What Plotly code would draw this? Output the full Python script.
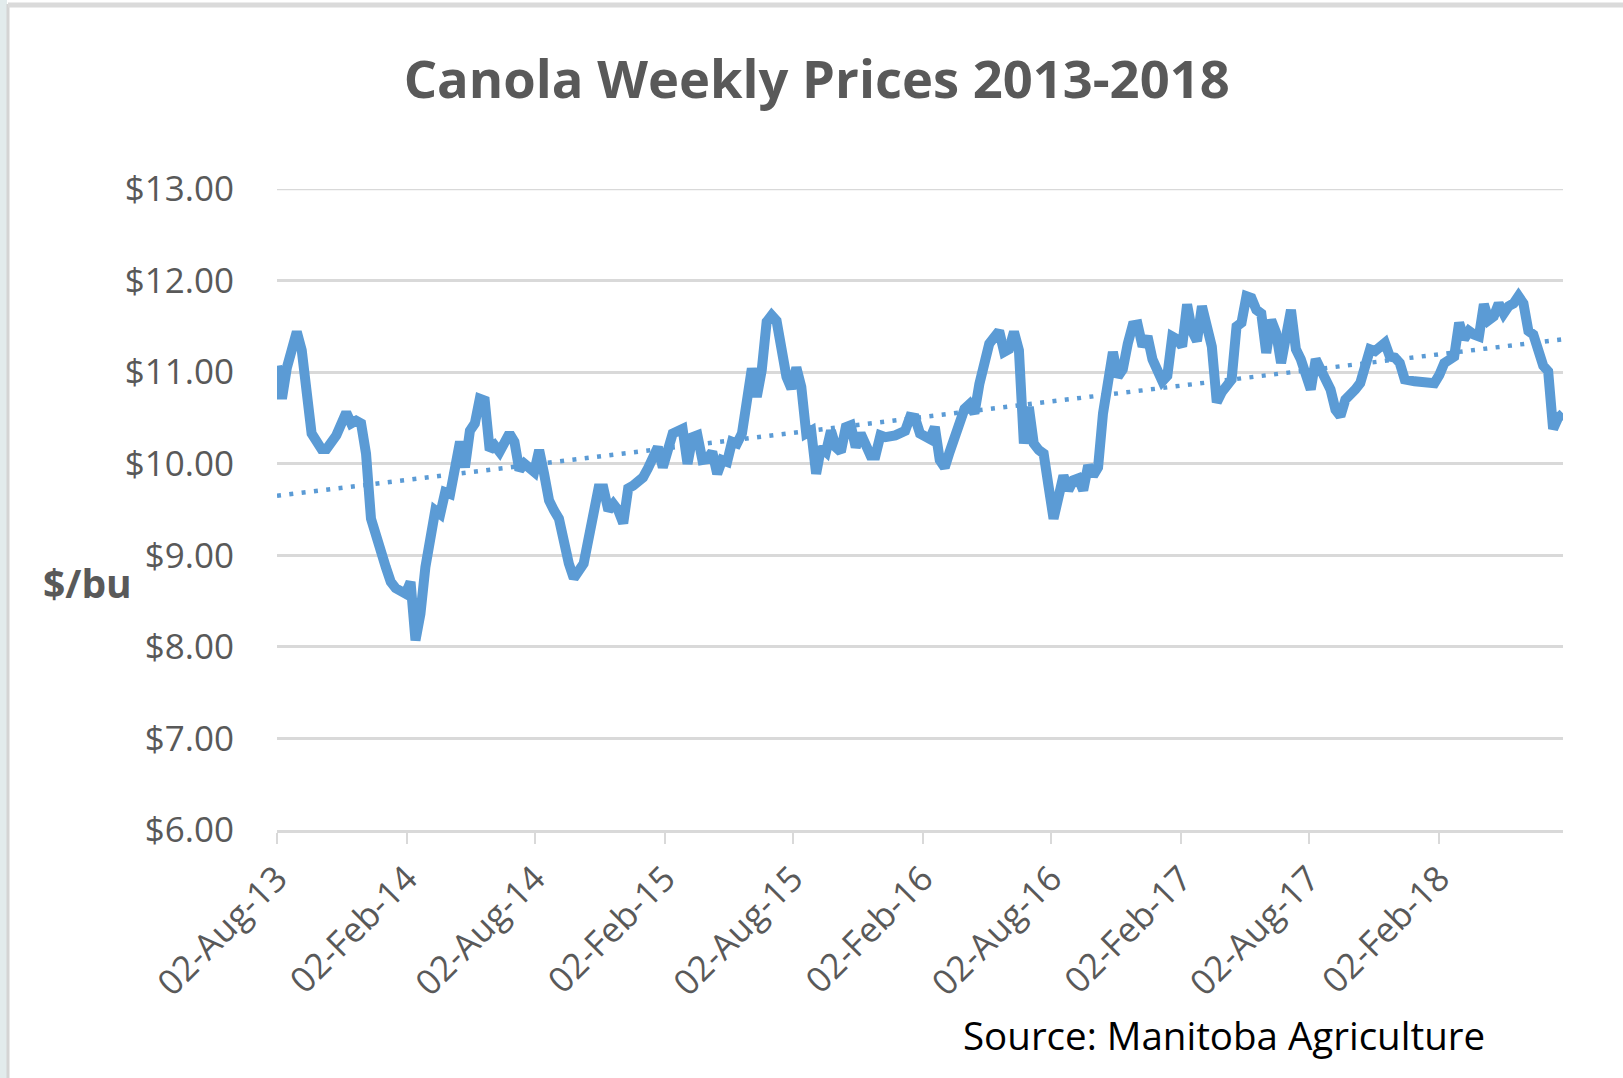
import pandas as pd
import plotly.graph_objects as go

# ---------------- data ----------------
start_date = "2013-08-02"  # first weekly observation (Friday)

weeks = [0, 1, 2, 4, 5, 6, 7, 9, 10, 12, 13, 14, 15, 16, 17, 18, 19, 20, 22, 23, 24, 26, 27, 28, 29, 30,
         32, 33, 34, 35, 36, 37, 38, 39, 40, 41, 42, 43, 44, 45, 47, 48, 49, 50, 52, 53, 54, 55, 56, 57,
         59, 60, 62, 63, 64, 65, 66, 67, 68, 69, 70, 71, 72, 74, 75, 77, 78, 79, 80, 82, 83, 84, 85,
         86, 87, 88, 89, 90, 91, 92, 93, 94, 95, 96, 97, 98, 99, 100, 101, 102, 103, 104, 105, 106, 107,
         108, 109, 110, 111, 112, 113, 114, 115, 116, 117, 118, 119, 120, 121, 122, 123, 125, 127, 128,
         129, 130, 132, 133, 134, 135, 136, 137, 138, 139, 140, 141, 142, 143, 144, 146, 147, 148, 149,
         150, 151, 152, 153, 154, 155, 156, 157, 159, 160, 161, 162, 163, 164, 165, 166, 167, 168, 169,
         170, 171, 172, 173, 174, 175, 176, 177, 179, 180, 181, 182, 183, 184, 185, 186, 187, 188, 189,
         190, 191, 193, 194, 195, 196, 197, 198, 199, 200, 201, 202, 203, 204, 205, 206, 207, 209, 210,
         211, 213, 214, 215, 216, 217, 218, 219, 220, 221, 222, 224, 225, 226, 227, 228, 230, 232, 234,
         235, 236, 238, 239, 240, 241, 242, 243, 244, 245, 246, 247, 248, 249, 250, 251, 252, 253, 254,
         255, 256, 257, 258, 259, 260]

prices = [11.07, 10.71, 11.05, 11.44, 11.24, 10.65, 10.33, 10.16, 10.16, 10.31, 10.42, 10.56, 10.44, 10.47,
          10.44, 10.11, 9.40, 9.20, 8.87, 8.71, 8.64, 8.58, 8.71, 8.07, 8.36, 8.87,
          9.49, 9.45, 9.69, 9.67, 10.04, 10.24, 9.96, 10.36, 10.44, 10.71, 10.69, 10.15, 10.20, 10.13,
          10.33, 10.24, 9.93, 10.00, 9.91, 10.15, 9.89, 9.60, 9.49, 9.40,
          8.91, 8.75, 8.91, 9.16, 9.38, 9.73, 9.73, 9.49, 9.56, 9.49, 9.35, 9.73, 9.76, 9.85, 9.95,
          10.18, 9.96, 10.16, 10.33, 10.38, 10.00, 10.29, 10.31,
          10.04, 10.05, 10.13, 9.89, 10.04, 10.02, 10.24, 10.22, 10.33, 10.71, 11.04, 10.73, 11.02,
          11.55, 11.62, 11.56, 11.24, 10.95, 10.82, 11.05, 10.84, 10.33,
          10.36, 9.89, 10.18, 10.13, 10.36, 10.18, 10.13, 10.40, 10.42, 10.18, 10.33, 10.18, 10.09,
          10.09, 10.31, 10.29, 10.31, 10.36, 10.51,
          10.50, 10.33, 10.27, 10.40, 10.04, 9.96, 10.13, 10.29, 10.42, 10.60, 10.65, 10.55, 10.87,
          11.13, 11.31, 11.45, 11.22, 11.25, 11.44,
          11.24, 10.22, 10.62, 10.22, 10.15, 10.11, 9.75, 9.40, 9.87, 9.71, 9.82, 9.84, 9.71, 9.98,
          9.87, 9.96, 10.55, 10.90, 11.22,
          10.95, 11.03, 11.31, 11.51, 11.52, 11.28, 11.39, 11.14, 10.90, 10.96, 11.39, 11.36, 11.28,
          11.74, 11.45, 11.34, 11.72, 11.54, 11.28,
          10.67, 10.78, 10.92, 11.50, 11.54, 11.83, 11.81, 11.68, 11.64, 11.21, 11.57, 11.43, 11.10,
          11.43, 11.68, 11.25, 11.14, 10.81, 11.14,
          11.03, 10.81, 10.59, 10.52, 10.70, 10.74, 10.81, 10.88, 11.03, 11.25, 11.23, 11.32, 11.17,
          11.16, 11.10, 10.92, 10.90, 10.88, 10.88,
          10.97, 11.10, 11.17, 11.54, 11.36, 11.45, 11.41, 11.39, 11.74, 11.57, 11.61, 11.75, 11.64,
          11.72, 11.75, 11.83, 11.75, 11.45, 11.41,
          11.25, 11.07, 11.01, 10.38, 10.50, 10.55]

# linear trend line (dotted), end values
trend_weeks = [0, 260]
trend_prices = [9.65, 11.36]

tick_dates = ["2013-08-02", "2014-02-02", "2014-08-02", "2015-02-02", "2015-08-02",
              "2016-02-02", "2016-08-02", "2017-02-02", "2017-08-02", "2018-02-02"]
tick_labels = ["02-Aug-13", "02-Feb-14", "02-Aug-14", "02-Feb-15", "02-Aug-15",
               "02-Feb-16", "02-Aug-16", "02-Feb-17", "02-Aug-17", "02-Feb-18"]

y_ticks = [6, 7, 8, 9, 10, 11, 12, 13]
y_tick_labels = ["$6.00", "$7.00", "$8.00", "$9.00", "$10.00", "$11.00", "$12.00", "$13.00"]

# ---------------- build ----------------
t0 = pd.Timestamp(start_date)
dates = [t0 + pd.Timedelta(days=7 * w) for w in weeks]
trend_dates = [t0 + pd.Timedelta(days=7 * w) for w in trend_weeks]

BLUE = "#5B9BD5"
GRID = "#D9D9D9"
TXT = "#595959"

W, H = 1623, 1078
ML, MR, MT, MB = 277, 60, 189, 248
PW, PH = W - ML - MR, H - MT - MB


def px_x(px):
    return (px - ML) / PW


def px_y(py):
    return (H - MB - py) / PH


fig = go.Figure()
fig.add_trace(go.Scatter(x=trend_dates, y=trend_prices, mode="lines",
                         line=dict(color=BLUE, width=4.5, dash="4px,8.4px"),
                         hoverinfo="skip", showlegend=False))
fig.add_trace(go.Scatter(x=dates, y=prices, mode="lines",
                         line=dict(color=BLUE, width=10),
                         showlegend=False, name="Canola"))

fig.update_layout(
    width=W, height=H,
    margin=dict(l=ML, r=MR, t=MT, b=MB, autoexpand=False),
    paper_bgcolor="white", plot_bgcolor="white",
    font=dict(family="Open Sans", color=TXT),
    title=dict(text="<b>Canola Weekly Prices 2013-2018</b>",
               font=dict(family="Open Sans", size=52.5, color=TXT),
               x=789 / 1568, xref="container", xanchor="center",
               y=1 - 80 / H, yref="container", yanchor="middle"),
    xaxis=dict(type="date", range=[dates[0], dates[-1]],
               tickvals=pd.to_datetime(tick_dates), ticktext=tick_labels,
               tickangle=-45, tickfont=dict(size=35, color=TXT, family="Open Sans"),
               showgrid=False, showline=True, linecolor=GRID, linewidth=3,
               ticks="outside", ticklen=11, tickwidth=2, tickcolor=GRID,
               zeroline=False),
    yaxis=dict(range=[6, 13], tickvals=y_ticks, ticktext=y_tick_labels,
               tickfont=dict(size=35, color=TXT, family="Open Sans"),
               showgrid=True, gridcolor=GRID, gridwidth=2.5,
               showline=False, zeroline=False, ticks="",
               ticklabelstandoff=42),
)

# top gridline at the upper edge of the value range
fig.add_shape(type="line", xref="paper", yref="y", x0=0, x1=1,
              y0=y_ticks[-1], y1=y_ticks[-1], line=dict(color=GRID, width=2.5),
              layer="below")

# frame: left slide strip, left border line, top border line
fig.add_shape(type="rect", xref="paper", yref="paper",
              x0=px_x(0), x1=px_x(7), y0=px_y(H), y1=px_y(0),
              fillcolor="#E2EBEC", line=dict(width=0), layer="below")
fig.add_shape(type="line", xref="paper", yref="paper",
              x0=px_x(8), x1=px_x(8), y0=px_y(H), y1=px_y(4),
              line=dict(color="#D4D4D4", width=3))
fig.add_shape(type="line", xref="paper", yref="paper",
              x0=px_x(8), x1=px_x(W), y0=px_y(5), y1=px_y(5),
              line=dict(color="#DADADA", width=5))

fig.add_annotation(text="<b>$/bu</b>", xref="paper", yref="paper",
                   x=px_x(41), y=px_y(582), xanchor="left", yanchor="middle",
                   showarrow=False, font=dict(family="Open Sans", size=39, color=TXT))
fig.add_annotation(text="Source: Manitoba Agriculture", xref="paper", yref="paper",
                   x=px_x(1487), y=px_y(1035), xanchor="right", yanchor="middle",
                   showarrow=False, font=dict(family="Open Sans", size=38.5, color="#000000"))

fig.write_html("out.html",
               config={"displayModeBar": False},
               post_script="document.body.style.margin='0';document.body.style.overflow='hidden';")
